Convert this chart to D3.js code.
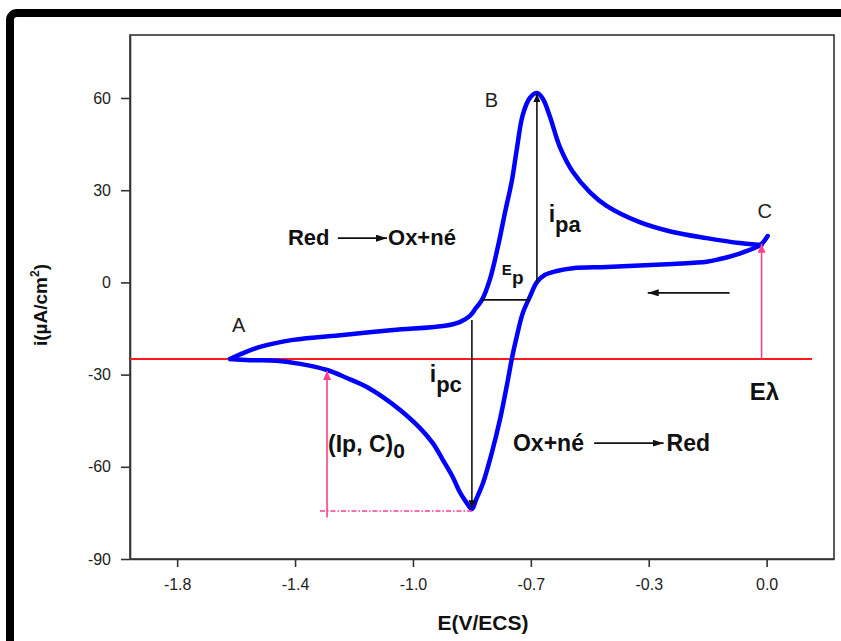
<!DOCTYPE html>
<html><head><meta charset="utf-8">
<script src="https://cdn.jsdelivr.net/npm/d3@7"></script>
<style>
html,body{margin:0;padding:0;background:#fff;}
svg{display:block;font-family:"Liberation Sans",Arial,sans-serif;}
</style></head><body>
<svg id="chart" width="841" height="641"></svg>
<script>
// ---------- data ----------
const xTickValues = [-1.75, -1.4, -1.05, -0.7, -0.35, 0];
const xTickLabels = ["-1.8", "-1.4", "-1.0", "-0.7", "-0.3", "0.0"];
const yTickValues = [-90, -60, -30, 0, 30, 60];
const yTickLabels = ["-90", "-60", "-30", "0", "30", "60"];

// forward (anodic) scan: A -> B -> C
const forwardE = [-1.593, -1.554, -1.504, -1.406, -1.258, -1.109, -0.961, -0.911, -0.881, -0.863, -0.845, -0.822,
  -0.798, -0.777, -0.756, -0.742, -0.724, -0.703, -0.682, -0.664, -0.643, -0.614, -0.575, -0.525, -0.475,
  -0.377, -0.279, -0.178, -0.080, -0.015];
const forwardI = [-24.9, -23.0, -21.0, -18.7, -17.1, -15.5, -14.2, -12.9, -10.9, -8.3, -5.7, 0.8,
  11.5, 22.6, 33.3, 43.1, 54.5, 60.0, 61.6, 59.7, 53.8, 44.1, 35.9, 29.4, 24.9,
  19.6, 16.4, 14.4, 12.8, 12.2];

// reverse (cathodic) scan: C -> cathodic peak -> A
const reverseE = [0.003, -0.015, -0.030, -0.080, -0.139, -0.178, -0.279, -0.377, -0.475, -0.575, -0.623, -0.659,
  -0.682, -0.703, -0.724, -0.742, -0.756, -0.771, -0.792, -0.816, -0.842, -0.863, -0.875, -0.890, -0.911, -0.932,
  -0.961, -0.991, -1.029, -1.088, -1.139, -1.187, -1.246, -1.305, -1.385, -1.454, -1.534, -1.593];
const reverseI = [15.1, 12.5, 11.5, 9.4, 7.6, 6.7, 6.0, 5.5, 5.0, 4.6, 3.7, 2.4,
  0.1, -4.7, -10.0, -17.7, -24.6, -33.4, -44.8, -55.5, -65.3, -70.8, -73.8, -71.8, -68.2, -63.3,
  -57.8, -52.3, -47.4, -41.5, -37.3, -34.0, -31.1, -28.5, -26.5, -25.5, -25.3, -24.9];

// characteristic values
const Epa = -0.682, ipa = 61.6;        // anodic peak B
const Epc = -0.875, ipc = -73.8;       // cathodic peak
const Ebase = -24.9;                    // initial current level (point A)
const Elambda = -0.015, iLambda = 12.6; // switching point C

// ---------- layout ----------
const svg = d3.select("#chart");
const L = 130, R = 834, T = 35, B = 559;
const x = d3.scaleLinear().domain([-1.89, 0.2]).range([L, R]);
const y = d3.scaleLinear().domain([-90, 80.5]).range([B, T]);

// outer black frame
svg.append("rect").attr("x", 10).attr("y", 13).attr("width", 900).attr("height", 700)
  .attr("rx", 7).attr("fill", "none").attr("stroke", "#000").attr("stroke-width", 8);

// markers
const defs = svg.append("defs");
function marker(id, color, w, h) {
  defs.append("marker").attr("id", id).attr("viewBox", `0 0 ${w} ${h}`)
    .attr("refX", w).attr("refY", h / 2).attr("markerWidth", w).attr("markerHeight", h)
    .attr("markerUnits", "userSpaceOnUse").attr("orient", "auto")
    .append("path").attr("d", `M0,0L${w},${h/2}L0,${h}Z`).attr("fill", color);
}
marker("blk", "#111", 8, 7);
marker("blkBig", "#111", 11, 7);
marker("pink", "#ff3f8f", 9, 8);

// plot box
svg.append("rect").attr("x", L).attr("y", T).attr("width", R - L).attr("height", B - T)
  .attr("fill", "none").attr("stroke", "#333").attr("stroke-width", 1.6);

// axes
const xAxis = d3.axisBottom(x).tickValues(xTickValues)
  .tickFormat((d, i) => xTickLabels[i]).tickSizeInner(8).tickSizeOuter(0).tickPadding(12);
const gx = svg.append("g").attr("transform", `translate(0,${B})`).call(xAxis);
const yAxis = d3.axisLeft(y).tickValues(yTickValues)
  .tickFormat((d, i) => yTickLabels[i]).tickSizeInner(9).tickSizeOuter(0).tickPadding(10);
const gy = svg.append("g").attr("transform", `translate(${L},0)`).call(yAxis);
[gx, gy].forEach(g => {
  g.select(".domain").attr("stroke", "#333").attr("stroke-width", 1.6);
  g.selectAll(".tick line").attr("stroke", "#333").attr("stroke-width", 1.6);
  g.selectAll(".tick text").attr("font-size", 16).attr("fill", "#222")
    .attr("font-family", "'Liberation Sans',Arial,sans-serif");
});

// axis titles
svg.append("text").attr("x", (L + R) / 2 + 1).attr("y", 630).attr("text-anchor", "middle")
  .attr("font-size", 21).attr("font-weight", "bold").attr("fill", "#111").text("E(V/ECS)");
const yt = svg.append("text").attr("transform", "translate(47,305) rotate(-90)")
  .attr("text-anchor", "middle").attr("font-size", 19).attr("font-weight", "bold").attr("fill", "#111");
yt.append("tspan").text("i(µA/cm");
yt.append("tspan").attr("font-size", 12).attr("dy", -8).text("2");
yt.append("tspan").attr("dy", 8).text(")");

// red baseline
svg.append("line").attr("x1", x(-1.89)).attr("x2", x(0.135)).attr("y1", y(Ebase)).attr("y2", y(Ebase))
  .attr("stroke", "#ff1a1a").attr("stroke-width", 2);

// voltammogram (each scan drawn as its own branch)
const line = d3.line().x(d => x(d[0])).y(d => y(d[1])).curve(d3.curveCatmullRom.alpha(0.5));
function branch(E, I) {
  const p = E.map((v, i) => [v, I[i]]).sort((a, b) => a[0] - b[0]);
  svg.append("path").datum(p).attr("d", line).attr("fill", "none")
    .attr("stroke", "#0000ff").attr("stroke-width", 4.5).attr("stroke-linejoin", "round")
    .attr("stroke-linecap", "round");
}
branch(reverseE, reverseI);
branch(forwardE, forwardI);

// black construction lines
function seg(x1, y1, x2, y2, opts) {
  const l = svg.append("line").attr("x1", x(x1)).attr("y1", y(y1)).attr("x2", x(x2)).attr("y2", y(y2))
    .attr("stroke", opts.color || "#111").attr("stroke-width", opts.w || 1.6);
  if (opts.marker) l.attr("marker-end", `url(#${opts.marker})`);
  if (opts.dash) l.attr("stroke-dasharray", opts.dash);
  return l;
}
seg(Epa, 0.1, Epa, ipa - 0.3, { marker: "blk" });            // i_pa
seg(Epc, -12.2, Epc, ipc + 0.3, { marker: "blk" });          // i_pc
seg(-0.845, -5.7, -0.703, -5.7, {});                         // E_p
seg(-0.110, -3.4, -0.353, -3.4, { marker: "blkBig" });       // scan direction
seg(-1.273, 14.4, -1.127, 14.4, { marker: "blkBig" });       // Red -> Ox
seg(-0.512, -52.3, -0.306, -52.3, { marker: "blkBig" });     // Ox -> Red

// pink annotations
seg(-1.326, ipc - 0.6, Epc, ipc - 0.6, { color: "#ff3f8f", w: 1.6, dash: "5,2,1.5,2" });
seg(-1.305, -76.5, -1.305, -28.8, { color: "#ff3f8f", w: 1.6, marker: "pink" });
seg(Elambda, Ebase, Elambda, iLambda, { color: "#ff3f8f", w: 1.6, marker: "pink" });

// text annotations
function txt(vx, vy, str, size, bold, color) {
  return svg.append("text").attr("x", x(vx)).attr("y", y(vy)).attr("font-size", size)
    .attr("font-weight", bold ? "bold" : "normal").attr("fill", color || "#111").text(str);
}
txt(-1.421, 12.2, "Red", 22, true);
txt(-1.124, 12.2, "Ox+né", 22, true);
txt(-0.753, -54.9, "Ox+né", 23, true);
txt(-0.297, -54.9, "Red", 23, true);
txt(-1.587, -16.1, "A", 20, false, "#222");
txt(-0.837, 57.1, "B", 20, false, "#222");
txt(-0.027, 21.0, "C", 20, false, "#222");
txt(-0.050, -38.3, "Eλ", 24, true);

function sub(vx, vy, main, s, size, subSize, dy) {
  const t = txt(vx, vy, "", size, true);
  t.append("tspan").text(main);
  t.append("tspan").attr("font-size", subSize).attr("dy", dy).text(s);
  return t;
}
sub(-0.647, 19.7, "i", "pa", 23, 22, 10);
sub(-1.000, -32.4, "i", "pc", 23, 22, 10);
sub(-0.786, 2.4, "E", "p", 15, 19, 9);
sub(-1.302, -55.2, "(Ip, C)", "0", 23, 21, 6);
</script>
</body></html>
